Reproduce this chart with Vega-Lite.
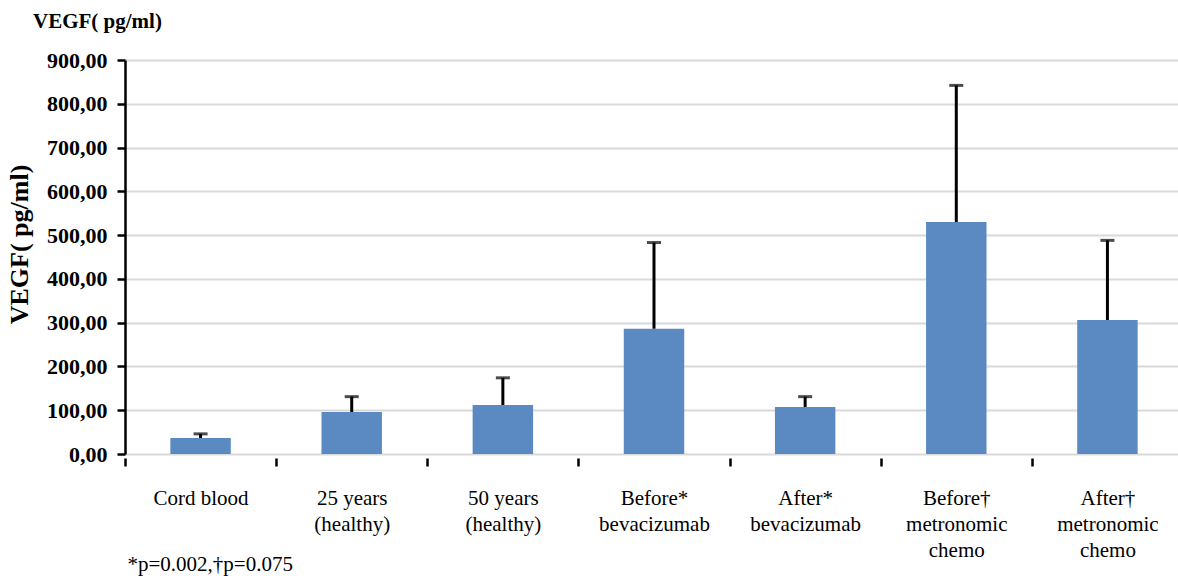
{
  "$schema": "https://vega.github.io/schema/vega-lite/v6.json",
  "autosize": "none",
  "width": 1058,
  "height": 394,
  "padding": {"left": 125, "top": 60, "right": 0, "bottom": 122},
  "background": "white",
  "title": {
    "text": "VEGF( pg/ml)",
    "anchor": "start",
    "frame": "group",
    "font": "Liberation Serif",
    "fontSize": 21,
    "fontWeight": "bold",
    "color": "black",
    "dx": -92,
    "dy": -3,
    "offset": 14
  },
  "config": {
    "view": {"stroke": null},
    "font": "Liberation Serif"
  },
  "data": {
    "values": [
      {"group": "Cord blood", "value": 36.5, "upper": 46},
      {"group": "25 years|(healthy)", "value": 96, "upper": 131},
      {"group": "50 years|(healthy)", "value": 112, "upper": 174},
      {"group": "Before*|bevacizumab", "value": 286, "upper": 483},
      {"group": "After*|bevacizumab", "value": 107.5, "upper": 131},
      {"group": "Before†|metronomic|chemo", "value": 530, "upper": 842},
      {"group": "After†|metronomic|chemo", "value": 306, "upper": 488}
    ]
  },
  "encoding": {
    "x": {
      "field": "group",
      "type": "nominal",
      "sort": null,
      "scale": {"paddingInner": 0.6, "paddingOuter": 0.3},
      "axis": {
        "title": "*p=0.002,†p=0.075",
        "titleFont": "Liberation Serif",
        "titleFontSize": 21,
        "titleFontWeight": "normal",
        "titleColor": "black",
        "titleAnchor": "start",
        "titleAlign": "left",
        "titleBaseline": "alphabetic",
        "titleX": 2,
        "titleY": 112,
        "labelExpr": "split(datum.label, '|')",
        "labelAngle": 0,
        "labelFont": "Liberation Serif",
        "labelFontSize": 21,
        "labelColor": "black",
        "labelLineHeight": 26,
        "labelPadding": 21,
        "labelBaseline": "top",
        "domain": false,
        "offset": 4,
        "tickOffset": -75.57,
        "labelOffset": 75.57,
        "tickSize": 8,
        "tickWidth": 2.5,
        "tickColor": "black",
        "grid": false
      }
    }
  },
  "layer": [
    {
      "mark": {"type": "rule", "color": "black", "strokeWidth": 3},
      "encoding": {
        "y": {"field": "value", "type": "quantitative"},
        "y2": {"field": "upper"}
      }
    },
    {
      "mark": {"type": "tick", "color": "black", "size": 14, "thickness": 3, "orient": "horizontal"},
      "encoding": {
        "y": {"field": "upper", "type": "quantitative"}
      }
    },
    {
      "mark": {"type": "bar", "color": "#5B8AC3"},
      "encoding": {
        "y": {
          "field": "value",
          "type": "quantitative",
          "scale": {"domain": [0, 900]},
          "axis": {
            "title": "VEGF( pg/ml)",
            "titleFont": "Liberation Serif",
            "titleFontSize": 26,
            "titleFontWeight": "bold",
            "titleColor": "black",
            "titlePadding": 14,
            "titleY": 184,
            "titleAlign": "center",
            "values": [0, 100, 200, 300, 400, 500, 600, 700, 800, 900],
            "labelExpr": "replace(format(datum.value, '.2f'), '.', ',')",
            "labelFont": "Liberation Serif",
            "labelFontSize": 22,
            "labelFontWeight": "bold",
            "labelColor": "black",
            "labelPadding": 10,
            "domainColor": "black",
            "domainWidth": 2.5,
            "tickColor": "black",
            "tickWidth": 2.5,
            "tickSize": 8,
            "grid": true,
            "gridColor": "#d9d9d9",
            "gridWidth": 2
          }
        }
      }
    },
    {
      "mark": {"type": "rule", "color": "black", "strokeWidth": 2.5},
      "encoding": {"y": {"datum": 0, "type": "quantitative"}}
    }
  ]
}
